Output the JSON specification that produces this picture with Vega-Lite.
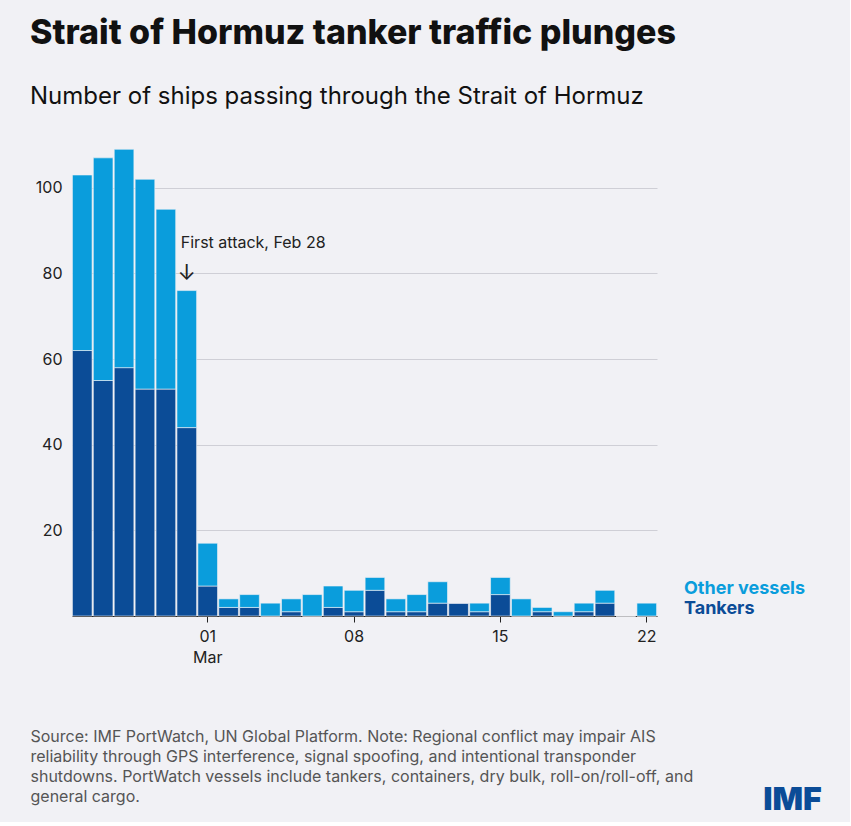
{
  "$schema": "https://vega.github.io/schema/vega-lite/v6.json",
  "width": 585,
  "height": 471,
  "padding": {"left": 30, "top": 17, "right": 28, "bottom": 5},
  "background": "#f1f1f5",
  "config": {"view": {"stroke": null}, "font": "Inter"},
  "title": {
    "text": "Strait of Hormuz tanker traffic plunges",
    "subtitle": "Number of ships passing through the Strait of Hormuz",
    "anchor": "start",
    "offset": 36,
    "dx": 0,
    "font": "Inter",
    "fontSize": 34,
    "fontWeight": 800,
    "color": "#111111",
    "subtitleFont": "Inter",
    "subtitleFontSize": 24,
    "subtitleColor": "#111111",
    "subtitlePadding": 34
  },
  "data": {
    "values": [
      {"day": "Feb 23", "tankers": 62, "other": 41},
      {"day": "Feb 24", "tankers": 55, "other": 52},
      {"day": "Feb 25", "tankers": 58, "other": 51},
      {"day": "Feb 26", "tankers": 53, "other": 49},
      {"day": "Feb 27", "tankers": 53, "other": 42},
      {"day": "Feb 28", "tankers": 44, "other": 32},
      {"day": "Mar 01", "tankers": 7, "other": 10},
      {"day": "Mar 02", "tankers": 2, "other": 2},
      {"day": "Mar 03", "tankers": 2, "other": 3},
      {"day": "Mar 04", "tankers": 0, "other": 3},
      {"day": "Mar 05", "tankers": 1, "other": 3},
      {"day": "Mar 06", "tankers": 0, "other": 5},
      {"day": "Mar 07", "tankers": 2, "other": 5},
      {"day": "Mar 08", "tankers": 1, "other": 5},
      {"day": "Mar 09", "tankers": 6, "other": 3},
      {"day": "Mar 10", "tankers": 1, "other": 3},
      {"day": "Mar 11", "tankers": 1, "other": 4},
      {"day": "Mar 12", "tankers": 3, "other": 5},
      {"day": "Mar 13", "tankers": 3, "other": 0},
      {"day": "Mar 14", "tankers": 1, "other": 2},
      {"day": "Mar 15", "tankers": 5, "other": 4},
      {"day": "Mar 16", "tankers": 0, "other": 4},
      {"day": "Mar 17", "tankers": 1, "other": 1},
      {"day": "Mar 18", "tankers": 0, "other": 1},
      {"day": "Mar 19", "tankers": 1, "other": 2},
      {"day": "Mar 20", "tankers": 3, "other": 3},
      {"day": "Mar 21", "tankers": 0, "other": 0},
      {"day": "Mar 22", "tankers": 0, "other": 3}
    ]
  },
  "layer": [
    {
      "transform": [
        {"fold": ["tankers", "other"], "as": ["type", "count"]},
        {"calculate": "datum.type == 'tankers' ? 'Tankers' : 'Other vessels'", "as": "vessel"},
        {"calculate": "datum.type == 'tankers' ? 0 : 1", "as": "ord"}
      ],
      "mark": {"type": "bar", "stroke": "#f1f1f5", "strokeWidth": 0.6},
      "encoding": {
        "x": {
          "field": "day",
          "type": "ordinal",
          "sort": null,
          "scale": {"paddingInner": 0.06, "paddingOuter": 0.02},
          "axis": {
            "values": ["Mar 01", "Mar 08", "Mar 15", "Mar 22"],
            "labelExpr": "datum.value == 'Mar 01' ? ['01', 'Mar'] : slice(datum.value, 4)",
            "labelAngle": 0,
            "labelFontSize": 16,
            "labelLineHeight": 21,
            "labelColor": "#222222",
            "labelPadding": 6,
            "domainColor": "#222222",
            "tickColor": "#222222",
            "tickSize": 6,
            "title": [
              "Source: IMF PortWatch, UN Global Platform. Note: Regional conflict may impair AIS",
              "reliability through GPS interference, signal spoofing, and intentional transponder",
              "shutdowns. PortWatch vessels include tankers, containers, dry bulk, roll-on/roll-off, and",
              "general cargo."
            ],
            "titleFontSize": 16,
            "titleFontWeight": "normal",
            "titleColor": "#555555",
            "titleAnchor": "start",
            "titleAlign": "left",
            "titleX": -42,
            "titlePadding": 63,
            "titleLineHeight": 20
          }
        },
        "y": {
          "field": "count",
          "type": "quantitative",
          "stack": "zero",
          "scale": {"domain": [0, 110]},
          "axis": {
            "values": [20, 40, 60, 80, 100],
            "title": null,
            "domain": false,
            "ticks": false,
            "labelFontSize": 16,
            "labelColor": "#222222",
            "labelPadding": 10,
            "gridColor": "#cfcfd6"
          }
        },
        "color": {
          "field": "vessel",
          "type": "nominal",
          "scale": {"domain": ["Other vessels", "Tankers"], "range": ["#0a9ddc", "#0b4c97"]},
          "legend": {
            "title": null,
            "orient": "none",
            "legendX": 594,
            "legendY": 435,
            "symbolSize": 0,
            "symbolOpacity": 0,
            "symbolStrokeWidth": 0,
            "labelOffset": 0,
            "labelFontSize": 18,
            "labelFontWeight": "bold",
            "labelColor": {"expr": "datum.value == 'Tankers' ? '#0b4c97' : '#0a9ddc'"},
            "rowPadding": 2
          }
        },
        "order": {"field": "ord"}
      }
    },
    {
      "data": {"values": [{"day": "Feb 28", "y": 87, "t": "First attack, Feb 28"}]},
      "mark": {"type": "text", "align": "left", "dx": -6, "fontSize": 16, "color": "#222222"},
      "encoding": {
        "x": {"field": "day", "type": "ordinal"},
        "y": {"field": "y", "type": "quantitative"},
        "text": {"field": "t"}
      }
    },
    {
      "data": {"values": [{"day": "Feb 28", "y": 80, "t": "↓"}]},
      "mark": {"type": "text", "fontSize": 22, "color": "#222222"},
      "encoding": {
        "x": {"field": "day", "type": "ordinal"},
        "y": {"field": "y", "type": "quantitative"},
        "text": {"field": "t"}
      }
    },
    {
      "data": {"values": [{"day": "Mar 22", "y": -43, "t": "IMF"}]},
      "mark": {"type": "text", "align": "right", "dx": 175, "fontSize": 32, "fontWeight": 900, "color": "#0b4c97"},
      "encoding": {
        "x": {"field": "day", "type": "ordinal"},
        "y": {"field": "y", "type": "quantitative"},
        "text": {"field": "t"}
      }
    }
  ]
}
